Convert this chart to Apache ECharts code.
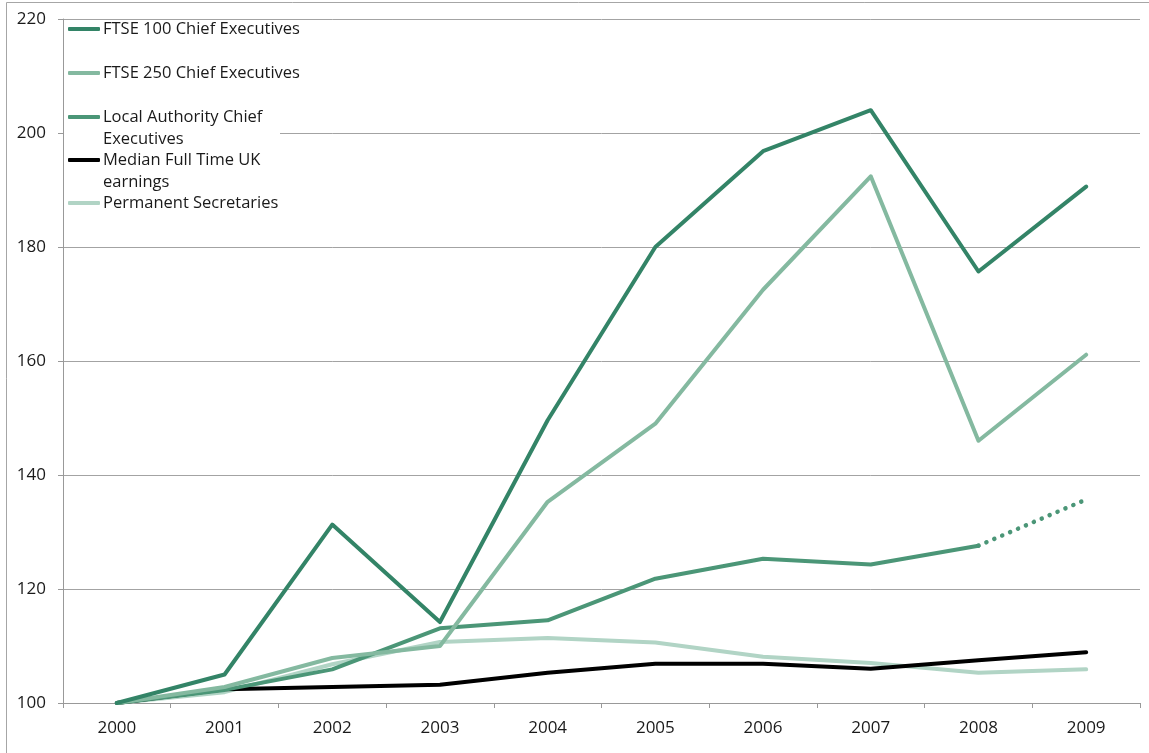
<!DOCTYPE html>
<html>
<head>
<meta charset="utf-8">
<script src="https://cdn.jsdelivr.net/npm/echarts@6/dist/echarts.min.js"></script>
<style>html,body{margin:0;padding:0;background:#fff}#c{width:1149px;height:753px}</style>
</head>
<body>
<div id="c"></div>
<script>
const years = ['2000','2001','2002','2003','2004','2005','2006','2007','2008','2009'];
const seriesNames = ['FTSE 100 Chief Executives','FTSE 250 Chief Executives','Local Authority Chief Executives','Median Full Time UK earnings','Permanent Secretaries'];
const legendLabels = ['FTSE 100 Chief Executives','FTSE 250 Chief Executives','\nLocal Authority Chief\nExecutives','\nMedian Full Time UK\nearnings','Permanent Secretaries'];
const ftse100 = [100,105,131.3,114.2,149.6,180,196.8,204,175.7,190.6];
const ftse250 = [100,102.8,107.9,110,135.3,149,172.5,192.4,146,161.1];
const localAuthority = [100,102.3,105.9,113.1,114.5,121.8,125.3,124.3,127.6,null];
const localAuthorityEst = [null,null,null,null,null,null,null,null,127.6,135.7];
const medianEarnings = [100,102.4,102.8,103.2,105.3,106.9,106.9,106,107.5,108.9];
const permSecretaries = [100,101.9,106.8,110.7,111.4,110.6,108.1,107,105.3,105.9];
const yTicks = {min:100, max:220, interval:20};

const colors = ['#338467','#84b9a0','#4b9677','#000000','#b1d4c5'];
const lineData = [ftse100, ftse250, localAuthority, medianEarnings, permSecretaries];
const legendCenters = [29,73,117,160,203];
const FONT = 'Open Sans';

const series = seriesNames.map((n,i)=>({
  name:n, type:'line', data:lineData[i], symbol:'none', smooth:false,
  lineStyle:{color:colors[i], width:4, cap:'round', join:'round'},
  itemStyle:{color:colors[i]}, z: 10-i
}));
series.push({
  name:seriesNames[2], type:'line', data:localAuthorityEst, symbol:'none',
  lineStyle:{color:colors[2], width:4.5, type:[0.1,8.5], cap:'round'},
  itemStyle:{color:colors[2]}, z:8
});

const legends = seriesNames.map((n,i)=>{
  const multi = legendLabels[i].indexOf('\n')===0;
  return {
    data:[n], left:68, top: legendCenters[i] - (multi?33:11), padding:0,
    icon:'roundRect', itemWidth:32, itemHeight:4, itemGap:0,
    selectedMode:false,
    formatter: ()=>legendLabels[i],
    textStyle:{fontFamily:FONT, fontSize:16.5, color:'#1a1a1a', lineHeight:22, padding:[0,0,0,-2]}
  };
});

const chart = echarts.init(document.getElementById('c'), null, {renderer:'canvas'});
chart.setOption({
  animation:false,
  backgroundColor:'#fff',
  color:colors,
  grid:{left:63, right:9, top:19, bottom:50, containLabel:false},
  legend: legends,
  xAxis:{
    type:'category', data:years, boundaryGap:true,
    axisLine:{lineStyle:{color:'#999', width:1}},
    axisTick:{show:true, length:5, lineStyle:{color:'#999'}},
    axisLabel:{fontFamily:FONT, fontSize:17, color:'#1a1a1a', margin:17}
  },
  yAxis:{
    type:'value', min:yTicks.min, max:yTicks.max, interval:yTicks.interval,
    axisLine:{show:true, lineStyle:{color:'#999', width:1}},
    axisTick:{show:true, length:5, lineStyle:{color:'#999'}},
    axisLabel:{fontFamily:FONT, fontSize:17, color:'#1a1a1a', margin:17},
    splitLine:{show:true, lineStyle:{color:'#a3a3a3', width:1}}
  },
  graphic:[
    {type:'rect', z:3, silent:true, shape:{x:64, y:21, width:216, height:193}, style:{fill:'#fff'}},
    {type:'rect', z:0, silent:true, shape:{x:6.5, y:2.5, width:1200, height:800}, style:{fill:'none', stroke:'#a6a6a6', lineWidth:1}}
  ],
  series: series
});
</script>
</body>
</html>
